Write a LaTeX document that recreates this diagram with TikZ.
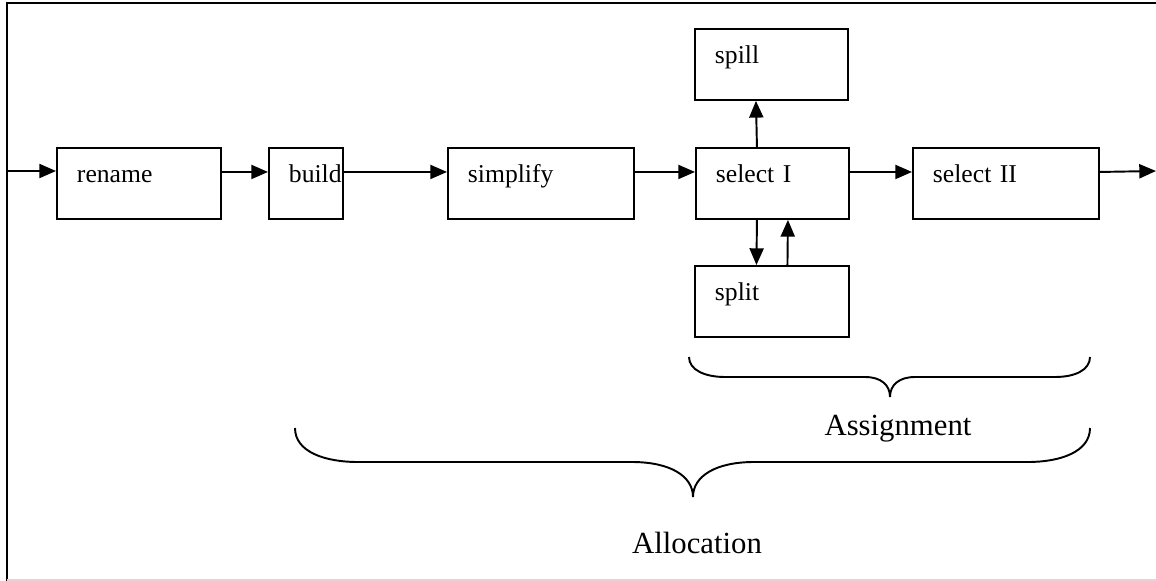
\documentclass[tikz,border=0pt]{standalone}
\usepackage{fontspec}
\setmainfont{Liberation Serif}
\usepackage{tikz}
\usetikzlibrary{arrows.meta,positioning,calc}

\begin{document}
\begin{tikzpicture}[
  x=0.02cm, y=-0.02cm,
  >=Stealth,
  font=\fontsize{14.6}{18}\selectfont,
  stage/.style={draw, line width=1.1pt, anchor=north west, inner xsep=0.4cm,
                inner ysep=0pt, text height=0.7cm, text depth=0.72cm,
                align=left, text width=#1},
  flow/.style={-{Triangle[length=9.5pt,width=8pt]}, line width=1.1pt},
  brace/.style={line width=1.1pt},
  phase/.style={anchor=base, font=\fontsize{17.5}{21}\selectfont},
]
\useasboundingbox (0,0) rectangle (1156,581);

% frame
\draw[line width=1.2pt] (1156,3) -- (7,3) -- (7,581);
\draw[black!15, line width=0.8pt] (7,580) -- (1156,580);

% main pipeline
\node[stage=2.48cm] (rename)   at (56,147)  {rename};
\node[stage=0.68cm] (build)    at (268,147) {build};
\node[stage=2.92cm] (simplify) at (447,147) {simplify};
\node[stage=2.26cm] (selI)     at (695,147) {select I};
\node[stage=2.92cm] (selII)    at (912,147) {select II};

% side stages of select I
\node[stage=2.26cm] (spill) at (694,28)  {spill};
\node[stage=2.28cm] (split) at (694,265) {split};

% entry and exit of the pipeline
\coordinate (in)  at (7,171);
\coordinate (out) at (1156,171);

\draw[flow] (in) -- (in -| rename.west);
\draw[flow] ([yshift=0.23cm]rename.east)   -- ([yshift=0.23cm]build.west);
\draw[flow] ([yshift=0.23cm]build.east)    -- ([yshift=0.23cm]simplify.west);
\draw[flow] ([yshift=0.23cm]simplify.east) -- ([yshift=0.23cm]selI.west);
\draw[flow] ([yshift=0.23cm]selI.east)     -- ([yshift=0.23cm]selII.west);
\draw[flow] ([yshift=0.23cm]selII.east)    -- (out);

\draw[flow] ([xshift=-0.31cm]selI.north) -- ([xshift=-0.31cm]spill.south);
\draw[flow] ([xshift=-0.31cm]selI.south) -- ([xshift=-0.31cm]split.north);
\draw[flow] ([xshift=0.31cm]split.north) -- ([xshift=0.31cm]selI.south);

% braces
\draw[brace] (689,357) .. controls (689,370) and (705,377) .. (725,377)
  -- (865,377) .. controls (881,377) and (890,385) .. (890,397)
  .. controls (890,385) and (899,377) .. (915,377)
  -- (1055,377) .. controls (1075,377) and (1090,370) .. (1090,357);
\node[phase] (assign) at (898,435) {Assignment};

\draw[brace] (295,428) .. controls (295,452) and (325,462) .. (358,462)
  -- (632,462) .. controls (670,462) and (693,476) .. (693,497)
  .. controls (693,476) and (716,462) .. (754,462)
  -- (1028,462) .. controls (1060,462) and (1090,452) .. (1090,428);
\node[phase] (alloc) at (697,553) {Allocation};

\end{tikzpicture}
\end{document}
